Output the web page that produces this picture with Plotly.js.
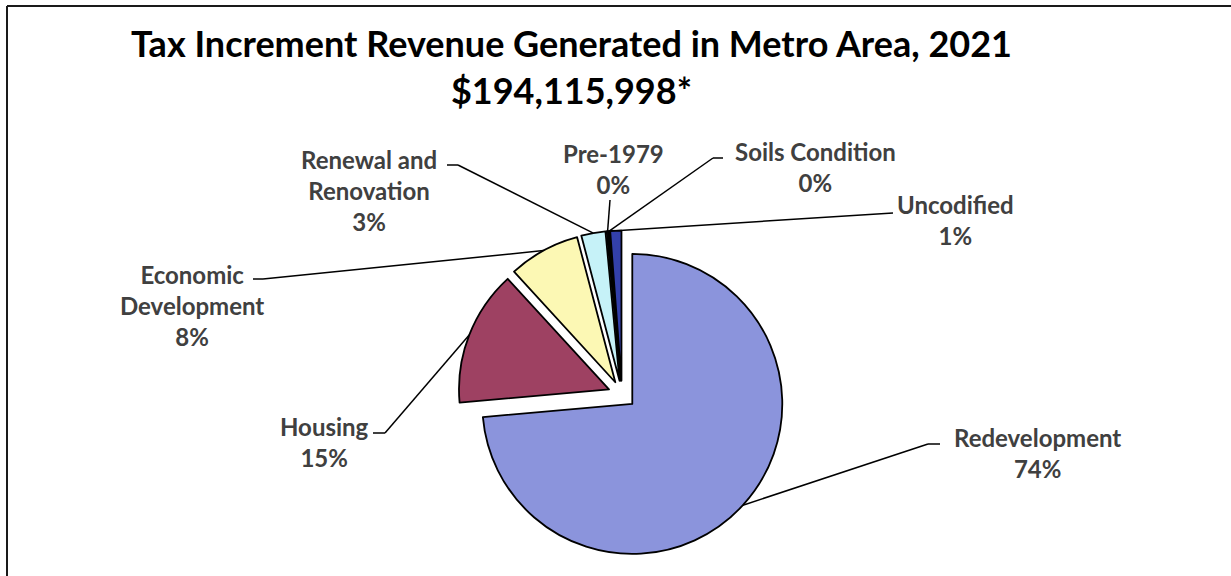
<!DOCTYPE html>
<html><head><meta charset="utf-8">
<script src="https://cdn.plot.ly/plotly-3.0.1.min.js"></script>
<style>html,body{margin:0;padding:0;background:#fff}#chart{width:1231px;height:576px}</style>
</head><body><div id="chart"></div>
<script>
// ---- data ----
const categories = ["Redevelopment", "Housing", "Economic<br>Development", "Renewal and<br>Renovation", "Pre-1979", "Soils Condition", "Uncodified"];
const shares = [73.6, 14.6, 7.7, 2.6, 0.2, 0.1, 1.2];   // percent of total
const titleLine1 = "Tax Increment Revenue Generated in Metro Area, 2021";
const titleLine2 = "$194,115,998*";

// ---- styles / layout geometry (pixels) ----
const colors = ["#8B94DC", "#9E4162", "#FCF8B4", "#C6F2F8", "#5A1F55", "#E07070", "#3340AA"];
const W = 1231, H = 576;
const CX = 622, CY = 394.5, R = 150, PULL = 0.093;
const labelPos = [[1037, 453], [324, 442], [192, 305], [369, 190], [613, 169], [815, 167], [955, 220]];
const leaderEnds = [[[940, 444], [928, 444]], [[373, 433], [385, 433]], [[253, 279], [263, 279]],
                    [[447, 165], [458, 165]], [[610, 200]], [[723, 158], [713, 158]], [[893, 213]]];
const FONT = "Lato, 'Open Sans', sans-serif";

const px = x => x / W, py = y => 1 - y / H;
const half = R * (1 + PULL);
const domain = { x: [px(CX - half), px(CX + half)], y: [py(CY + half), py(CY - half)] };

const total = shares.reduce((a, b) => a + b, 0);
let cum = 0;
const anchors = shares.map(v => {
  const mid = (cum + v / 2) / total; cum += v;
  const th = mid * 2 * Math.PI;
  return [CX + half * Math.sin(th), CY - half * Math.cos(th)];
});

const shapes = [];
const lineStyle = { color: "#000000", width: 1.5 };
anchors.forEach((a, i) => {
  const pts = leaderEnds[i].concat([a]);
  for (let k = 0; k < pts.length - 1; k++) {
    shapes.push({ type: "line", xref: "paper", yref: "paper", layer: "below",
      x0: px(pts[k][0]), y0: py(pts[k][1]), x1: px(pts[k + 1][0]), y1: py(pts[k + 1][1]), line: lineStyle });
  }
});
// chart frame
shapes.push({ type: "line", xref: "paper", yref: "paper", x0: px(7), y0: py(6), x1: 1, y1: py(6), line: { color: "#1a1a1a", width: 2 } });
shapes.push({ type: "line", xref: "paper", yref: "paper", x0: px(7), y0: py(6), x1: px(7), y1: 0, line: { color: "#1a1a1a", width: 2 } });

const annotations = categories.map((c, i) => ({
  xref: "paper", yref: "paper", x: px(labelPos[i][0]), y: py(labelPos[i][1]),
  xanchor: "center", yanchor: "middle", align: "center", showarrow: false,
  text: c + "<br>" + Math.round(shares[i] / total * 100) + "%",
  font: { family: FONT, size: 24, color: "#404040", weight: 700 }
}));
annotations.push({
  xref: "paper", yref: "paper", x: px(571), y: py(19), xanchor: "center", yanchor: "top", align: "center",
  showarrow: false, text: titleLine1 + "<br>" + titleLine2,
  font: { family: FONT, size: 36, color: "#000000", weight: 700 }
});

const trace = {
  type: "pie", values: shares, labels: categories, sort: false, direction: "clockwise", rotation: 0,
  pull: shares.map(() => PULL), textinfo: "none", hoverinfo: "skip",
  marker: { colors: colors, line: { color: "#000000", width: 1.8 } },
  domain: domain, showlegend: false
};

const layout = {
  width: W, height: H, margin: { l: 0, r: 0, t: 0, b: 0 },
  paper_bgcolor: "#ffffff", showlegend: false,
  shapes: shapes, annotations: annotations
};
Plotly.newPlot("chart", [trace], layout, { displayModeBar: false, staticPlot: true });
</script></body></html>
